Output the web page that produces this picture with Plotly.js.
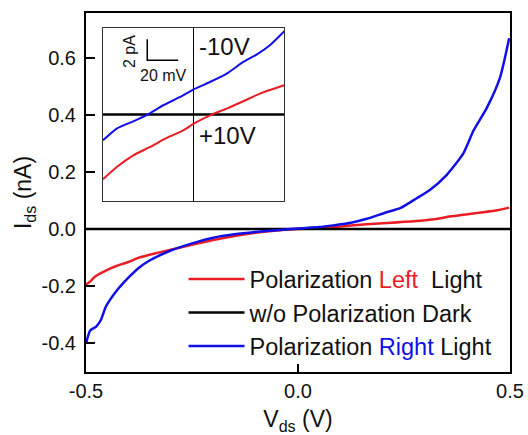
<!DOCTYPE html>
<html>
<head>
<meta charset="utf-8">
<script src="https://cdn.plot.ly/plotly-3.0.1.min.js"></script>
<style>html,body{margin:0;padding:0;background:#fff;}#chart{width:528px;height:435px;}</style>
</head>
<body>
<div id="chart"></div>
<script>
// ---- Main panel data (Vds in V, Ids in nA) ----
const leftX  = [-0.5, -0.49, -0.48, -0.47, -0.453, -0.43, -0.40, -0.375, -0.35, -0.30, -0.25, -0.20, -0.15, -0.10, -0.05, 0.0, 0.05, 0.10, 0.162, 0.22, 0.28, 0.33, 0.358, 0.40, 0.436, 0.47, 0.498];
const leftY  = [-0.195, -0.183, -0.168, -0.158, -0.145, -0.13, -0.115, -0.10, -0.09, -0.072, -0.055, -0.038, -0.024, -0.013, -0.005, 0.0, 0.004, 0.009, 0.017, 0.022, 0.028, 0.036, 0.044, 0.052, 0.059, 0.066, 0.075];

const rightX = [-0.5, -0.49, -0.476, -0.465, -0.453, -0.43, -0.40, -0.375, -0.35, -0.30, -0.25, -0.20, -0.15, -0.10, -0.05, 0.0, 0.05, 0.083, 0.125, 0.162, 0.209, 0.241, 0.28, 0.311, 0.351, 0.39, 0.414, 0.445, 0.476, 0.498];
const rightY = [-0.40, -0.355, -0.341, -0.318, -0.271, -0.22, -0.17, -0.135, -0.11, -0.075, -0.05, -0.03, -0.018, -0.01, -0.004, 0.002, 0.007, 0.013, 0.022, 0.036, 0.059, 0.073, 0.108, 0.137, 0.19, 0.265, 0.345, 0.423, 0.528, 0.668];

const darkX = [-0.5, 0.5];
const darkY = [0, 0];

// ---- Inset data (mV, pA) ----
const insetBlueX = [-58.6, -49.7, -39.0, -29.9, -19.6, -8.8, 0, 10.5, 21.3, 32.0, 40.6, 49.2, 58.5];
const insetBlueY = [-2.45, -1.33, -0.64, 0.0, 0.89, 1.68, 2.41, 3.10, 3.90, 5.01, 5.71, 6.60, 7.93];
const insetRedX  = [-58.6, -49.7, -39.0, -28.2, -17.4, -6.7, 0, 11.6, 21.3, 32.0, 42.8, 58.5];
const insetRedY  = [-6.16, -4.99, -3.88, -3.08, -2.22, -1.50, -0.86, 0.0, 0.57, 1.27, 2.0, 2.79];
const insetDarkX = [-58.6, 58.6];
const insetDarkY = [0, 0];
// scale bar: 20 mV x 2 pA
const scaleBarX = [-30, -30, -10];
const scaleBarY = [7.17, 5.17, 5.17];

// ---- Tick labels ----
const xTickVals = [-0.5, 0.0, 0.5];
const xTickText = ['-0.5', '0.0', '0.5'];
const yTickVals = [-0.4, -0.2, 0.0, 0.2, 0.4, 0.6];
const yTickText = ['-0.4', '-0.2', '0.0', '0.2', '0.4', '0.6'];

const RED = 'rgb(236,28,36)';
const BLUE = 'rgb(16,16,230)';
const FONT = 'Liberation Sans, Arial, sans-serif';

const traces = [
  {x: leftX, y: leftY, type: 'scatter', mode: 'lines', line: {color: RED, width: 2.5, shape: 'spline', smoothing: 0.6},
   name: 'Polarization <span style="color:' + RED + '">Left</span>&nbsp; Light'},
  {x: darkX, y: darkY, type: 'scatter', mode: 'lines', line: {color: 'black', width: 2.5},
   name: 'w/o Polarization Dark'},
  {x: rightX, y: rightY, type: 'scatter', mode: 'lines', line: {color: BLUE, width: 2.5, shape: 'spline', smoothing: 0.6},
   name: 'Polarization <span style="color:' + BLUE + '">Right</span> Light'},
  {x: insetDarkX, y: insetDarkY, xaxis: 'x2', yaxis: 'y2', type: 'scatter', mode: 'lines',
   line: {color: 'black', width: 2.5}, showlegend: false},
  {x: insetRedX, y: insetRedY, xaxis: 'x2', yaxis: 'y2', type: 'scatter', mode: 'lines',
   line: {color: RED, width: 2, shape: 'spline', smoothing: 0.6}, showlegend: false},
  {x: insetBlueX, y: insetBlueY, xaxis: 'x2', yaxis: 'y2', type: 'scatter', mode: 'lines',
   line: {color: BLUE, width: 2, shape: 'spline', smoothing: 0.6}, showlegend: false},
  {x: scaleBarX, y: scaleBarY, xaxis: 'x2', yaxis: 'y2', type: 'scatter', mode: 'lines',
   line: {color: 'black', width: 1.5}, showlegend: false}
];

const layout = {
  width: 528, height: 435,
  margin: {l: 86, r: 18, t: 13, b: 63},
  paper_bgcolor: 'white', plot_bgcolor: 'white',
  font: {family: FONT, size: 20, color: '#111'},
  showlegend: true,
  legend: {x: 0.23, y: 0.32, xanchor: 'left', yanchor: 'top', bgcolor: 'rgba(0,0,0,0)',
           font: {family: FONT, size: 23.5, color: '#111'}, itemwidth: 56, tracegroupgap: 0},
  xaxis: {range: [-0.5, 0.5], tickvals: xTickVals, ticktext: xTickText,
          ticks: 'inside', ticklen: 8, tickwidth: 2, tickcolor: 'black',
          showline: true, linewidth: 2, linecolor: 'black', mirror: true,
          showgrid: false, zeroline: false,
          title: {text: 'V<sub>ds</sub> (V)', font: {size: 23}, standoff: 11}},
  yaxis: {range: [-0.5, 0.756], tickvals: yTickVals, ticktext: yTickText,
          ticks: 'inside', ticklen: 9, tickwidth: 2, tickcolor: 'black',
          showline: true, linewidth: 2, linecolor: 'black', mirror: true,
          showgrid: false, zeroline: false, ticklabelstandoff: 4,
          title: {text: 'I<sub>ds</sub> (nA)', font: {size: 23}, standoff: 3}},
  xaxis2: {domain: [0.040, 0.468], anchor: 'y2', range: [-58.6, 58.6],
           showticklabels: false, ticks: '', showgrid: false,
           zeroline: true, zerolinecolor: 'black', zerolinewidth: 1,
           showline: true, mirror: true, linewidth: 1, linecolor: '#333'},
  yaxis2: {domain: [0.477, 0.957], anchor: 'x2', range: [-8.2, 8.2],
           showticklabels: false, ticks: '', showgrid: false, zeroline: false,
           showline: true, mirror: true, linewidth: 1, linecolor: '#333'},
  annotations: [
    {xref: 'x2', yref: 'y2', x: 2, y: 6.44, text: '-10V', showarrow: false, xanchor: 'left',
     font: {size: 24, color: '#111'}},
    {xref: 'x2', yref: 'y2', x: 2, y: -1.97, text: '+10V', showarrow: false, xanchor: 'left',
     font: {size: 24, color: '#111'}},
    {xref: 'x2', yref: 'y2', x: -19.5, y: 3.74, text: '20 mV', showarrow: false,
     font: {size: 16, color: '#111'}},
    {xref: 'x2', yref: 'y2', x: -41.5, y: 6.0, text: '2 pA', showarrow: false, textangle: -90,
     font: {size: 16, color: '#111'}}
  ]
};

Plotly.newPlot('chart', traces, layout, {staticPlot: true, displayModeBar: false});
</script>
</body>
</html>
